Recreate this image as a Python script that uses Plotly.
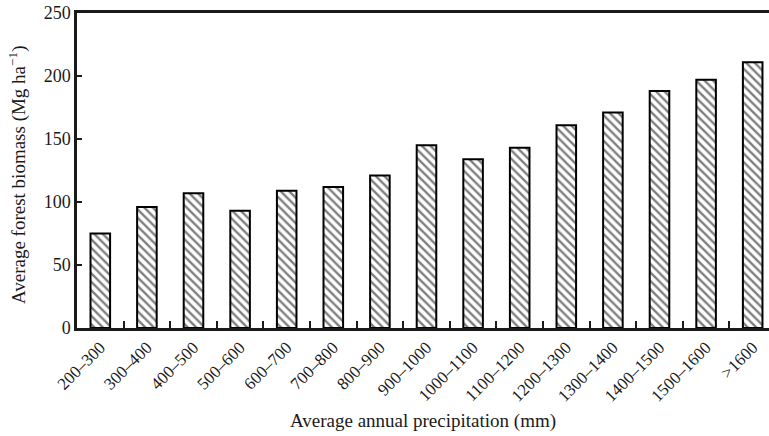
import plotly.graph_objects as go

# Precipitation classes (mm) and mean forest biomass (Mg ha-1)
precip_classes = ["200–300", "300–400", "400–500", "500–600", "600–700", "700–800",
                  "800–900", "900–1000", "1000–1100", "1100–1200", "1200–1300",
                  "1300–1400", "1400–1500", "1500–1600", ">1600"]
biomass = [75, 96, 107, 93, 109, 112, 121, 145, 134, 143, 161, 171, 188, 197, 211]

y_ticks = [0, 50, 100, 150, 200, 250]

FONT = "Liberation Serif"
INK = "#1a1a1a"

positions = list(range(len(precip_classes)))

fig = go.Figure(
    go.Bar(
        x=positions,
        y=biomass,
        marker=dict(
            color="white",
            line=dict(color="black", width=2),
            pattern=dict(shape="\\", fgcolor="black", bgcolor="white",
                         size=6, solidity=0.4),
        ),
    )
)

fig.update_layout(
    width=769, height=436,
    margin=dict(l=77, r=0, t=13, b=108),
    plot_bgcolor="white", paper_bgcolor="white",
    bargap=0.58,
    showlegend=False,
    font=dict(family=FONT, size=18, color=INK),
)

# Category labels at bar centres, short inward ticks on the class boundaries
fig.update_xaxes(
    range=[-0.5, 14.35],
    tickmode="array", tickvals=positions, ticktext=precip_classes,
    tickangle=-45,
    ticks="inside", ticklen=0, tickwidth=0,
    minor=dict(ticks="inside", tick0=0.5, dtick=1, ticklen=7, tickwidth=2,
               tickcolor=INK, showgrid=False),
    showline=True, linecolor=INK, linewidth=2.5, mirror=True,
    showgrid=False, zeroline=False,
    tickfont=dict(family=FONT, size=17),
    title=dict(text="Average annual precipitation (mm)",
               font=dict(family=FONT, size=19), standoff=10),
)

fig.update_yaxes(
    range=[0, 250],
    tickmode="array", tickvals=y_ticks,
    ticks="inside", ticklen=5, tickwidth=1.5, tickcolor=INK,
    showline=True, linecolor=INK, linewidth=2.5,
    showgrid=False, zeroline=False,
    tickfont=dict(family=FONT, size=18),
)

# Rotated y-axis title placed beside the tick labels
fig.add_annotation(
    text="Average forest biomass (Mg ha<sup>−1</sup>)",
    textangle=-90,
    xref="paper", yref="paper",
    x=-0.085, y=0.486,
    xanchor="center", yanchor="middle",
    showarrow=False,
    font=dict(family=FONT, size=19, color=INK),
)

fig.write_html("out.html")
